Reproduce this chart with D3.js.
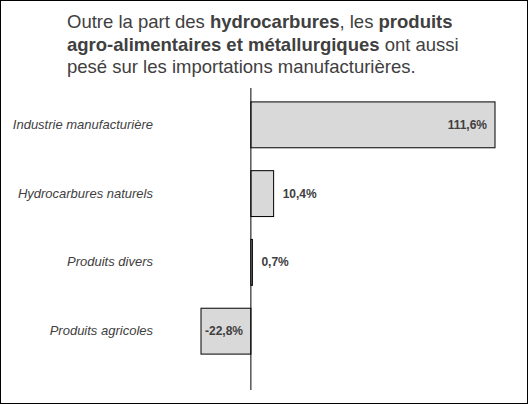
<!DOCTYPE html>
<html><head><meta charset="utf-8">
<script src="https://cdn.jsdelivr.net/npm/d3@7"></script>
<style>body{margin:0;background:#fff}</style></head>
<body><svg id="c" width="528" height="404"></svg>
<script>
const categories=["Industrie manufacturière","Hydrocarbures naturels","Produits divers","Produits agricoles"];
const values=[111.6,10.4,0.7,-22.8];
const labels=["111,6%","10,4%","0,7%","-22,8%"];
const svg=d3.select("#c");
svg.append("rect").attr("x",0.5).attr("y",0.5).attr("width",527).attr("height",403).attr("fill","#fff").attr("stroke","#000");
const t=svg.append("text").attr("font-family","Arial, Liberation Sans, sans-serif").attr("font-size",18.5).attr("fill","#404040");
const lines=[[["Outre la part des ",0],["hydrocarbures",1],[", les ",0],["produits",1]],
[["agro-alimentaires et métallurgiques",1],[" ont aussi",0]],
[["pesé sur les importations manufacturières.",0]]];
lines.forEach((l,i)=>{const tx=t.append("tspan").attr("x",67).attr("y",28+i*22.5);
 l.forEach(([s,b],j)=>{(j?t.append("tspan"):tx).text(s).attr("font-weight",b?"bold":"normal");});});
const x=d3.scaleLinear().domain([-22.8,111.6]).range([201,495]);
const y=d3.scaleBand().domain(categories).range([79,377]).padding(0.333);
const g=svg.append("g");
g.selectAll("rect.b").data(values).join("rect").attr("class","b")
 .attr("x",d=>x(Math.min(0,d))).attr("width",d=>Math.abs(x(d)-x(0)))
 .attr("y",(d,i)=>y(categories[i])).attr("height",y.bandwidth())
 .attr("fill","#d9d9d9").attr("stroke","#000").attr("stroke-width",1);
g.append("line").attr("x1",x(0)).attr("x2",x(0)).attr("y1",88).attr("y2",390).attr("stroke","#000");
g.selectAll("text.c").data(categories).join("text").attr("class","c")
 .attr("x",153).attr("y",d=>y(d)+y.bandwidth()/2+4).attr("text-anchor","end")
 .attr("font-family","Arial, Liberation Sans, sans-serif").attr("font-size",13).attr("font-style","italic").attr("fill","#404040").text(d=>d);
g.selectAll("text.v").data(values).join("text").attr("class","v")
 .attr("x",(d,i)=>i==0?x(d)-8:(d<0?x(d)+4:x(d)+9))
 .attr("text-anchor",(d,i)=>i==0?"end":"start")
 .attr("y",(d,i)=>y(categories[i])+y.bandwidth()/2+4)
 .attr("font-family","Arial, Liberation Sans, sans-serif").attr("font-size",12).attr("font-weight","bold").attr("fill","#404040")
 .text((d,i)=>labels[i]);
</script></body></html>
